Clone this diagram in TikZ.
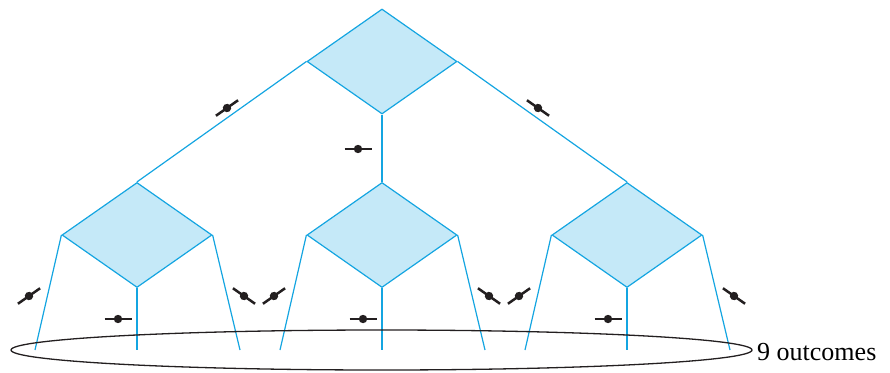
\documentclass[tikz,border=0pt]{standalone}
\usepackage{xcolor}
\usepackage{fontspec}
\setmainfont{Liberation Serif}
\usepackage{tikz}
\usetikzlibrary{shapes.geometric,positioning,calc}

\definecolor{treeblue}{RGB}{20,165,225}
\definecolor{treefill}{RGB}{197,233,248}
\definecolor{inkdark}{RGB}{35,31,32}

\tikzset{
	cmp/.style={diamond, draw=treeblue, fill=treefill, line width=1.2pt, inner sep=0pt, aspect=1.43, minimum width=150pt, minimum height=105pt},
	branch/.style={draw=treeblue, line width=1.2pt},
	cutmark/.pic={
		\draw[inkdark, line width=2.5pt] (-13.5pt,0) -- (13.5pt,0);
		\fill[inkdark] (0,0) circle (4.2pt);
	}
}

\begin{document}
\begin{tikzpicture}[x=1pt, y=-1pt]
		\useasboundingbox (0,0) rectangle (890,372);

		\node[cmp] (top) at (382,61.5) {};
		\node[cmp] (left) at (137,235) {};
		\node[cmp] (mid) at (382,235) {};
		\node[cmp] (right) at (627,235) {};

		\draw[branch] (top.west) -- (left.north);
		\draw[branch] (top.south) -- (mid.north);
		\draw[branch] (top.east) -- (right.north);

		% leaves
		\foreach \d/\x in {left/137, mid/382, right/627} {
			\coordinate (\d-a) at (\x-102,350);
			\coordinate (\d-b) at (\x,350);
			\coordinate (\d-c) at (\x+103,350);
			\draw[branch] (\d.west) -- (\d-a);
			\draw[branch] (\d.south) -- (\d-b);
			\draw[branch] (\d.east) -- (\d-c);
		}

		\pic[rotate=35] at (227,108) {cutmark};
		\pic at (358,149) {cutmark};
		\pic[rotate=-35] at (538,108) {cutmark};
		\foreach \x in {137, 382, 627} {
			\pic[rotate=35] at (\x-108,296) {cutmark};
			\pic at (\x-19,319) {cutmark};
			\pic[rotate=-35] at (\x+107,296) {cutmark};
		}

		\draw[inkdark, line width=1.3pt] (381.5,350) ellipse (370.5 and 20);
		\node[anchor=west, inner sep=0pt, font=\fontsize{26}{30}\selectfont] (out) at (757,352) {9 outcomes};
	\end{tikzpicture}
\end{document}
